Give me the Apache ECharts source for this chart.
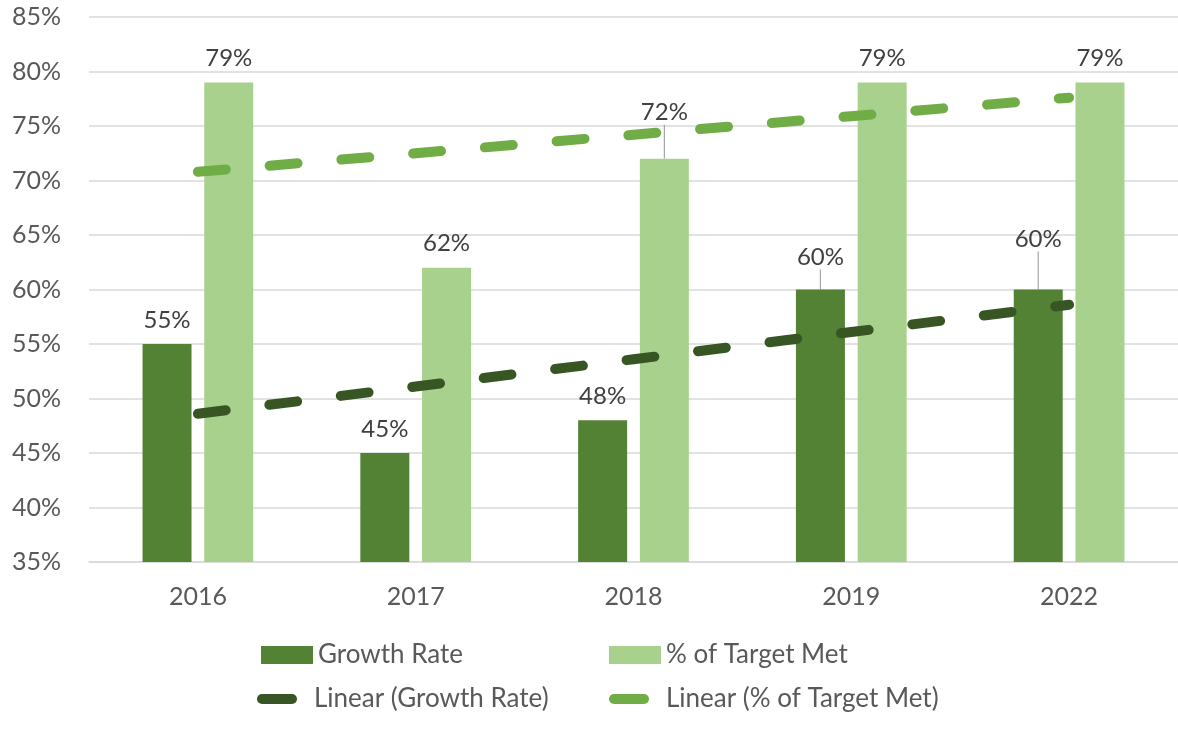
<!DOCTYPE html>
<html>
<head>
<meta charset="utf-8">
<script src="https://cdn.jsdelivr.net/npm/echarts@6/dist/echarts.min.js"></script>
<style>
  html, body { margin: 0; padding: 0; background: #fff; }
  #chart { width: 1178px; height: 730px; }
</style>
</head>
<body>
<div id="chart"></div>
<script>
const years = ['2016', '2017', '2018', '2019', '2022'];
const growthRate = [55, 45, 48, 60, 60];
const targetMet = [79, 62, 72, 79, 79];
// trend lines
const growthTrend = [48.6, 51.1, 53.6, 56.1, 58.6];
const targetTrend = [70.8, 72.5, 74.2, 75.9, 77.6];

const FONT = 'Lato';
const capsule = 'path://M5,0 H35 A5,5 0 0 1 35,10 H5 A5,5 0 0 1 5,0 Z';

const chart = echarts.init(document.getElementById('chart'));

// labels that Excel nudged upward, with leader lines
const growthShift = { 3: -8, 4: -26 };
const targetShift = { 2: -22 };

function withLeaders(values, shift) {
    return values.map((v, i) => shift[i]
        ? { value: v, labelLine: { show: true, lineStyle: { color: '#a6a6a6', width: 1.2 } } }
        : v);
}

function legendItem(name, left, top, icon, color, w, h, pad) {
    return {
        left: left,
        top: top,
        padding: 0,
        itemWidth: w,
        itemHeight: h,
        data: [{ name: name, icon: icon, itemStyle: { color: color } }],
        textStyle: { fontFamily: FONT, fontSize: 26, color: '#595959', padding: [0, 0, 0, pad] }
    };
}

const labelStyle = {
    show: true, position: 'top', distance: 12,
    fontFamily: FONT, fontSize: 24, color: '#404040',
    formatter: '{c}%'
};

const option = {
    animation: false,
    textStyle: { fontFamily: FONT },
    grid: { left: 89, right: 0, top: 17, bottom: 168 },
    legend: [
        legendItem('Growth Rate', 261, 642, 'rect', '#548235', 52, 18, 0),
        legendItem('% of Target Met', 609, 642, 'rect', '#A9D18E', 52, 18, 0),
        legendItem('Linear (Growth Rate)', 257, 686, capsule, '#375623', 40, 10, 12),
        legendItem('Linear (% of Target Met)', 609, 686, capsule, '#70AD47', 40, 10, 12)
    ],
    xAxis: {
        type: 'category',
        data: years,
        axisLine: { lineStyle: { color: '#d9d9d9', width: 1.5 } },
        axisTick: { show: false },
        axisLabel: { fontFamily: FONT, fontSize: 25, color: '#595959', margin: 22 }
    },
    yAxis: {
        type: 'value',
        min: 35,
        max: 85,
        interval: 5,
        axisLine: { show: false },
        axisTick: { show: false },
        axisLabel: { fontFamily: FONT, fontSize: 25, color: '#595959', margin: 28, formatter: '{value}%' },
        splitLine: { lineStyle: { color: '#d9d9d9', width: 1.5 } }
    },
    series: [
        {
            name: 'Growth Rate',
            type: 'bar',
            data: withLeaders(growthRate, growthShift),
            barWidth: 49,
            barGap: '26%',
            itemStyle: { color: '#548235' },
            label: labelStyle,
            labelLine: { show: false },
            labelLayout: function (p) {
                return growthShift[p.dataIndex] ? { dy: growthShift[p.dataIndex] } : {};
            },
            z: 2
        },
        {
            name: '% of Target Met',
            type: 'bar',
            data: withLeaders(targetMet, targetShift),
            barWidth: 49,
            itemStyle: { color: '#A9D18E' },
            label: labelStyle,
            labelLine: { show: false },
            labelLayout: function (p) {
                return targetShift[p.dataIndex] ? { dy: targetShift[p.dataIndex] } : {};
            },
            z: 2
        },
        {
            name: 'Linear (Growth Rate)',
            type: 'line',
            data: growthTrend,
            symbol: 'none',
            itemStyle: { color: '#375623' },
            lineStyle: { color: '#375623', width: 10, type: [28, 44], cap: 'round' },
            z: 3
        },
        {
            name: 'Linear (% of Target Met)',
            type: 'line',
            data: targetTrend,
            symbol: 'none',
            itemStyle: { color: '#70AD47' },
            lineStyle: { color: '#70AD47', width: 10, type: [28, 44], cap: 'round' },
            z: 3
        }
    ]
};

chart.setOption(option);
</script>
</body>
</html>
